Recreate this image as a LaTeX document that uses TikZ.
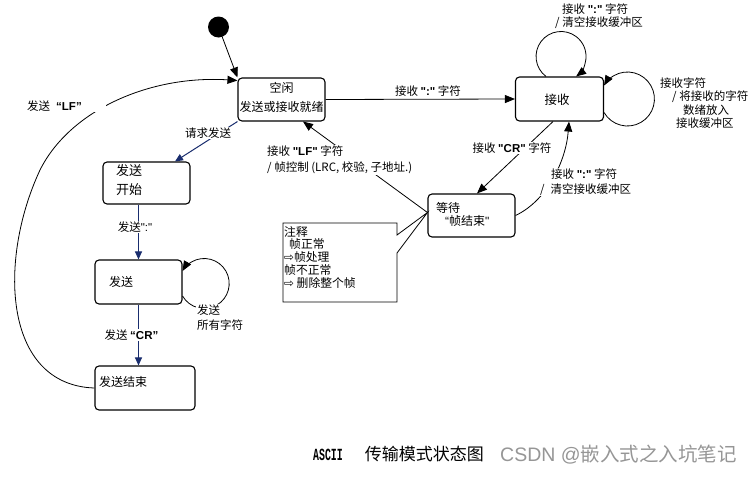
\documentclass[tikz,border=0pt]{standalone}
\usepackage{fontspec}
\usetikzlibrary{arrows.meta}
\setmainfont{Noto Sans CJK SC}
\newfontfamily\lat{Liberation Sans}
\newfontfamily\dv{DejaVu Sans}
\newfontfamily\mono{Liberation Mono}
\newcommand\myfs[1]{\fontsize{#1}{#1}\selectfont}
\newcommand\myfsb[2]{\fontsize{#1}{#2}\selectfont}
\definecolor{myblue}{RGB}{25,45,110}
\definecolor{wm}{RGB}{150,150,150}
\begin{document}
\begin{tikzpicture}[x=1pt,y=-1pt,
  box/.style={draw, rounded corners=4pt, line width=1.1pt, inner sep=0pt},
  txt/.style={inner sep=0pt, font=\myfs{12}},
  lbl/.style={inner sep=1pt, font=\myfs{11.5}},
  arr/.style={-{Triangle[length=10pt,width=8pt]}, line width=0.8pt},
  barr/.style={-{Triangle[length=8pt,width=7pt]}, line width=1pt, draw=myblue, color=myblue},
]
\useasboundingbox (0,0) rectangle (755,477);
\fill[white] (0,0) rectangle (755,477);

% states
\node[circle, fill=black, minimum size=21pt, inner sep=0pt] (init) at (218.5,27) {};
\node[box, minimum width=87pt, minimum height=43pt] (idle) at (281.5,99.5) {};
\node[box, minimum width=87pt, minimum height=42pt] (ss) at (146.5,183) {};
\node[box, minimum width=87pt, minimum height=44pt] (snd) at (138.5,282) {};
\node[box, minimum width=100pt, minimum height=44pt] (se) at (145,388) {};
\node[box, minimum width=88pt, minimum height=44pt] (rx) at (559.5,99) {};
\node[box, minimum width=87pt, minimum height=43pt] (wt) at (471.5,215.5) {};

% state texts
\node[txt] (t1) at (281.5,88) {空闲};
\node[txt] (t2) at (281.5,107) {发送或接收就绪};
\node[txt, anchor=west, font=\myfs{13}] (t3) at (116,171) {发送};
\node[txt, anchor=west, font=\myfs{13}] (t4) at (116,190) {开始};
\node[txt, anchor=west] (t5) at (109,282) {发送};
\node[txt, anchor=west] (t6) at (99,382) {发送结束};
\node[txt, font=\myfs{12.5}] (t7) at (557,100) {接收};
\node[txt, anchor=west] (t8) at (436,208) {等待};
\node[txt, anchor=west] (t9) at (445,221) {{\lat “}帧结束{\lat "}};

% note callout
\draw[line width=0.8pt, fill=white] (283,223) -- (397,223) -- (397,235) -- ([yshift=3pt]wt.west)
  -- (397,253) -- (397,302) -- (283,302) -- cycle;
\node[anchor=north west, align=left, inner sep=0pt, font=\myfsb{11.8}{12.8}] (n1) at (284,226)
  {注释\\\hspace{5pt}帧正常\\{\dv ⇨}帧处理\\帧不正常\\{\dv ⇨} 删除整个帧};

% connectors
\draw[arr] (init) -- (idle.north west);
\draw[arr] (idle.east) -- (rx.west);
\node[lbl] (l6) at (428,91) {接收 {\lat\bfseries ":"} 字符};

\draw[barr] (idle.south west) -- ([xshift=28.5pt]ss.north);
\node[lbl, fill=white] (l1) at (208,133) {请求发送};

\draw[barr] (snd.north |- ss.south) -- (snd.north);
\node[lbl, fill=white] (l2) at (135,227) {发送{\lat ":"}};

\draw[barr] (snd.south) -- (snd.south |- se.north);
\node[lbl, fill=white] (l3) at (131.5,335) {发送 {\lat\bfseries “CR”}};

\draw[arr] ([yshift=-14pt]snd.east) arc[start angle=150, end angle=-150, radius=25];
\node[lbl, fill=white, anchor=west, align=left, font=\myfsb{11.5}{15}] (l4) at (196,318) {发送\\所有字符};

\draw[arr] (se.west) .. controls (3,385) and (-2,260) .. (40,170)
  .. controls (70,110) and (150,75) .. ([yshift=-3pt]idle.north west);
\node[lbl, fill=white, anchor=west, text width=78pt, align=left] (l5) at (26,106) {发送\hspace{6pt}{\lat\bfseries “LF”}};

\draw[arr] ([xshift=-13.5pt]rx.north) arc[start angle=127, end angle=413, radius=25];
\node[lbl, anchor=west, align=left, font=\myfsb{11.5}{12.5}] (l7) at (554,16)
  {\hspace{7pt}接收 {\lat\bfseries ":"} 字符\\/ 清空接收缓冲区};

\draw[arr] ([yshift=-13.5pt]rx.east) arc[start angle=150, end angle=-150, radius=27];
\node[lbl, anchor=west, align=left, font=\myfsb{11.5}{13.3}] (l8) at (659,103)
  {接收字符\\\hspace{12pt}/ 将接收的字符\\\hspace{23pt}数绪放入\\\hspace{16pt}接收缓冲区};

\draw[arr] ([xshift=-6.5pt]rx.south) -- ([xshift=5.5pt]wt.north);
\node[lbl, fill=white] (l9) at (512,148) {接收 {\lat\bfseries "CR"} 字符};

\draw[arr] (wt.east) .. controls (548,200) and (566,160) .. ([xshift=9.5pt]rx.south);
\node[lbl, fill=white, anchor=west, align=left, font=\myfsb{11.5}{15}] (l10) at (539,182)
  {\hspace{11pt}接收 {\lat\bfseries ":"} 字符\\/\hspace{6pt}清空接收缓冲区};

\draw[arr] ([yshift=3pt]wt.west) -- ([xshift=21.5pt]idle.south);
\node[lbl, fill=white, anchor=west, align=left, font=\myfsb{11.5}{16}] (l11) at (266,160)
  {接收 {\lat\bfseries "LF"} 字符\\/ 帧控制 (LRC, 校验, 子地址.)};

% captions
\node[anchor=west, inner sep=0pt, font=\myfs{17}] (c1) at (313,454)
  {\scalebox{0.58}[1]{\mono\bfseries\myfs{17}ASCII}\hspace{22pt}传输模式状态图};
\node[anchor=west, inner sep=0pt, text=wm, font=\myfs{19.5}] (c2) at (500,455)
  {{\lat CSDN @}嵌入式之入坑笔记};
\end{tikzpicture}
\end{document}
